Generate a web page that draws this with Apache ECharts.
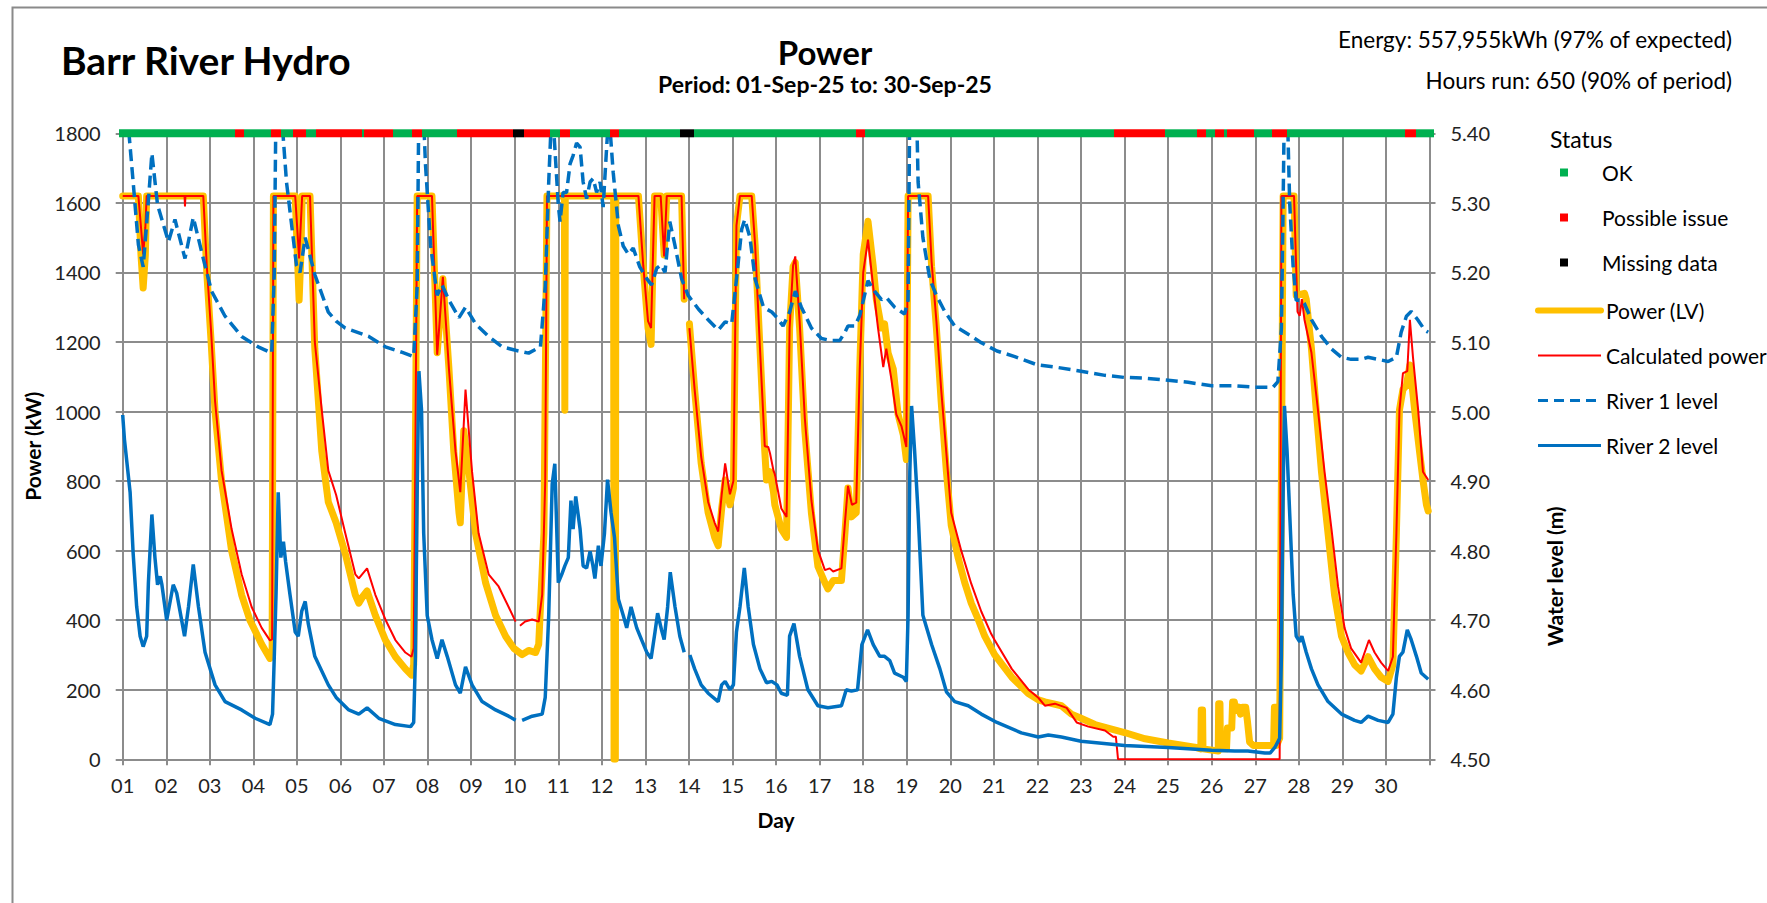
<!DOCTYPE html>
<html><head><meta charset="utf-8">
<script src="https://cdn.jsdelivr.net/npm/echarts@6/dist/echarts.min.js"></script>
<style>html,body{margin:0;padding:0;background:#fff}#c{width:1767px;height:903px}</style>
</head><body><div id="c"></div>
<script>
const chartTitle = 'Barr River Hydro';
const plotTitle = 'Power';
const periodText = 'Period: 01-Sep-25 to: 30-Sep-25';
const energyText = 'Energy: 557,955kWh (97% of expected)';
const hoursText = 'Hours run: 650 (90% of period)';
const dayLabels = ['01','02','03','04','05','06','07','08','09','10','11','12','13','14','15','16','17','18','19','20','21','22','23','24','25','26','27','28','29','30'];
const seriesNames = ['Power (LV)','Calculated power','River 1 level','River 2 level'];
const statusNames = ['OK','Possible issue','Missing data'];

const powerLV = [[1.00,1620],[1.36,1620],[1.42,1450],[1.47,1355],[1.52,1450],[1.55,1620],[2.85,1620],[2.93,1400],[3.03,1200],[3.12,1000],[3.27,800],[3.50,600],[3.73,473],[3.92,400],[4.19,331],[4.38,290],[4.43,300],[4.46,1620],[4.96,1620],[5.01,1450],[5.05,1320],[5.09,1450],[5.12,1620],[5.30,1620],[5.41,1181],[5.57,886],[5.72,740],[5.90,680],[6.11,591],[6.34,473],[6.42,449],[6.52,470],[6.61,484],[6.80,414],[7.03,343],[7.26,295],[7.49,260],[7.63,242],[7.68,272],[7.72,900],[7.76,1620],[8.10,1620],[8.22,1169],[8.35,1382],[8.49,1122],[8.60,886],[8.72,709],[8.75,680],[8.83,945],[8.95,827],[9.10,650],[9.33,508],[9.56,414],[9.79,354],[9.98,319],[10.17,301],[10.32,313],[10.48,307],[10.55,331],[10.67,650],[10.74,1620],[11.14,1620],[11.15,1004],[11.16,1620],[12.27,1620],[12.28,0],[12.31,0],[12.32,1620],[12.84,1620],[12.95,1417],[13.06,1240],[13.13,1193],[13.21,1620],[13.35,1620],[13.43,1450],[13.49,1620],[13.83,1620],[13.89,1323],[13.95,null],[14.01,1252],[14.13,1063],[14.28,851],[14.44,709],[14.59,638],[14.67,614],[14.75,721],[14.83,803],[14.94,732],[15.02,780],[15.09,1535],[15.17,1620],[15.44,1620],[15.52,1476],[15.63,1181],[15.74,886],[15.78,803],[15.86,827],[15.94,768],[15.97,732],[16.12,662],[16.24,638],[16.31,1240],[16.39,1417],[16.44,1429],[16.54,1240],[16.66,945],[16.81,709],[16.96,555],[17.12,508],[17.19,490],[17.31,514],[17.50,514],[17.58,650],[17.65,780],[17.73,697],[17.84,709],[17.92,1122],[18.00,1452],[18.11,1547],[18.23,1417],[18.30,1323],[18.42,1240],[18.49,1252],[18.57,1169],[18.69,1122],[18.80,992],[18.92,933],[18.99,862],[19.03,1620],[19.49,1620],[19.57,1417],[19.68,1240],[19.79,1027],[19.91,827],[20.02,673],[20.18,579],[20.33,508],[20.48,449],[20.64,402],[20.79,354],[20.94,319],[21.02,300],[21.41,236],[21.79,189],[22.02,171],[22.17,165],[22.55,154],[22.78,130],[23.00,118],[23.32,100],[24.00,77],[24.47,59],[25.00,47],[25.61,35],[25.75,30],[25.76,142],[25.79,142],[25.80,30],[26.15,24],[26.16,160],[26.19,160],[26.20,30],[26.34,30],[26.36,90],[26.46,90],[26.48,165],[26.52,165],[26.55,140],[26.62,150],[26.66,130],[26.70,150],[26.78,150],[26.82,110],[26.87,50],[26.95,40],[27.42,40],[27.44,150],[27.47,150],[27.49,40],[27.56,60],[27.60,800],[27.64,1620],[27.89,1620],[27.94,1334],[28.13,1340],[28.17,1323],[28.29,1181],[28.40,1004],[28.52,827],[28.67,650],[28.82,473],[28.98,354],[29.13,307],[29.28,272],[29.43,254],[29.59,295],[29.74,260],[29.89,236],[30.05,224],[30.16,272],[30.24,650],[30.31,1004],[30.39,1063],[30.47,1075],[30.55,1134],[30.66,1004],[30.77,886],[30.85,803],[30.93,732],[30.97,714]];

const calcPower = [[1.00,1620],[1.36,1620],[1.42,1530],[1.47,1452],[1.52,1530],[1.55,1620],[2.42,1620],[2.43,1590],[2.44,1620],[2.85,1620],[2.93,1420],[3.03,1230],[3.12,1030],[3.27,830],[3.50,662],[3.73,532],[3.96,438],[4.19,378],[4.38,342],[4.43,345],[4.46,1620],[4.96,1620],[5.05,1440],[5.12,1620],[5.30,1620],[5.41,1200],[5.57,1004],[5.72,830],[5.90,760],[6.11,650],[6.34,532],[6.42,520],[6.61,549],[6.80,473],[7.03,402],[7.26,343],[7.49,307],[7.63,295],[7.68,319],[7.72,900],[7.76,1620],[8.10,1620],[8.22,1163],[8.35,1387],[8.49,1122],[8.64,886],[8.75,768],[8.87,1063],[9.02,827],[9.17,650],[9.40,532],[9.63,497],[9.86,438],[10.02,396],[10.07,null],[10.12,384],[10.24,396],[10.40,402],[10.55,396],[10.63,473],[10.70,800],[10.74,1620],[12.84,1620],[12.95,1420],[13.06,1260],[13.13,1240],[13.21,1620],[13.35,1620],[13.43,1446],[13.49,1620],[13.83,1620],[13.89,1323],[13.95,null],[14.01,1240],[14.13,1063],[14.28,870],[14.44,740],[14.59,680],[14.67,655],[14.75,760],[14.83,851],[14.94,762],[15.02,800],[15.09,1535],[15.17,1620],[15.44,1620],[15.52,1476],[15.63,1181],[15.74,900],[15.82,898],[15.86,880],[15.94,830],[15.97,820],[16.12,721],[16.24,697],[16.31,1240],[16.39,1420],[16.44,1446],[16.54,1260],[16.66,980],[16.81,745],[16.96,602],[17.12,544],[17.23,549],[17.31,540],[17.50,549],[17.58,680],[17.65,786],[17.74,732],[17.84,738],[17.92,1122],[18.00,1400],[18.11,1494],[18.23,1358],[18.34,1240],[18.46,1128],[18.53,1181],[18.64,1098],[18.76,992],[18.88,957],[18.99,898],[19.03,1620],[19.49,1620],[19.57,1430],[19.68,1260],[19.79,1063],[20.02,709],[20.25,600],[20.48,505],[20.71,425],[20.94,360],[21.02,342],[21.41,260],[21.79,201],[22.02,177],[22.17,154],[22.40,160],[22.67,148],[22.90,106],[23.17,94],[23.55,83],[23.74,65],[23.80,65],[23.85,0],[27.56,0],[27.60,1620],[27.89,1620],[27.97,1287],[28.02,1275],[28.07,1323],[28.13,1264],[28.29,1169],[28.44,1004],[28.59,827],[28.75,662],[28.90,497],[29.05,378],[29.20,319],[29.43,278],[29.61,343],[29.74,307],[29.89,278],[30.05,254],[30.16,295],[30.24,650],[30.31,1004],[30.39,1110],[30.49,1116],[30.55,1264],[30.62,1157],[30.74,1004],[30.85,827],[30.97,803]];

const river1 = [[1.00,5.48],[1.13,5.41],[1.24,5.33],[1.36,5.24],[1.47,5.208],[1.55,5.27],[1.67,5.371],[1.80,5.297],[2.05,5.244],[2.20,5.276],[2.43,5.22],[2.62,5.279],[2.85,5.22],[3.04,5.173],[3.35,5.137],[3.73,5.108],[4.11,5.093],[4.42,5.084],[4.48,5.20],[4.52,5.45],[4.62,5.45],[4.76,5.33],[4.99,5.21],[5.07,5.20],[5.19,5.25],[5.41,5.197],[5.72,5.143],[5.90,5.13],[6.11,5.12],[6.65,5.108],[7.03,5.093],[7.42,5.085],[7.68,5.079],[7.76,5.18],[7.80,5.45],[7.89,5.45],[7.95,5.356],[8.07,5.238],[8.22,5.167],[8.33,5.182],[8.49,5.16],[8.72,5.135],[8.87,5.15],[9.10,5.126],[9.40,5.108],[9.71,5.093],[10.02,5.088],[10.32,5.084],[10.59,5.093],[10.70,5.18],[10.78,5.33],[10.86,5.45],[10.88,5.42],[10.92,5.38],[11.00,5.297],[11.04,5.273],[11.11,5.315],[11.19,5.315],[11.27,5.356],[11.34,5.368],[11.42,5.386],[11.50,5.38],[11.57,5.33],[11.65,5.306],[11.73,5.33],[11.80,5.335],[11.88,5.315],[11.96,5.33],[12.03,5.294],[12.11,5.38],[12.16,5.43],[12.26,5.344],[12.38,5.267],[12.49,5.238],[12.61,5.226],[12.72,5.235],[12.87,5.208],[13.03,5.191],[13.14,5.182],[13.26,5.206],[13.36,5.211],[13.45,5.20],[13.56,5.273],[13.68,5.238],[13.83,5.191],[13.98,5.167],[14.22,5.147],[14.44,5.132],[14.67,5.117],[14.83,5.129],[14.98,5.126],[15.09,5.19],[15.21,5.262],[15.28,5.276],[15.40,5.25],[15.52,5.19],[15.71,5.15],[15.90,5.143],[16.02,5.135],[16.16,5.123],[16.31,5.143],[16.44,5.173],[16.58,5.15],[16.81,5.12],[17.04,5.105],[17.27,5.102],[17.46,5.102],[17.58,5.114],[17.65,5.123],[17.81,5.123],[17.92,5.138],[18.11,5.188],[18.26,5.173],[18.42,5.161],[18.53,5.164],[18.72,5.15],[18.95,5.14],[19.03,5.16],[19.07,5.45],[19.22,5.45],[19.26,5.33],[19.37,5.25],[19.53,5.19],[19.68,5.167],[19.87,5.144],[20.10,5.123],[20.41,5.111],[20.71,5.099],[21.07,5.087],[21.48,5.079],[22.00,5.067],[22.40,5.064],[23.00,5.058],[23.55,5.052],[24.00,5.049],[24.47,5.048],[25.00,5.045],[25.46,5.042],[26.00,5.037],[26.53,5.037],[26.99,5.035],[27.41,5.035],[27.52,5.043],[27.60,5.12],[27.64,5.30],[27.67,5.45],[27.73,5.45],[27.79,5.30],[27.87,5.208],[27.94,5.16],[28.06,5.16],[28.13,5.155],[28.29,5.132],[28.52,5.108],[28.75,5.09],[28.98,5.078],[29.20,5.075],[29.43,5.075],[29.59,5.078],[29.82,5.075],[30.05,5.072],[30.24,5.078],[30.35,5.114],[30.47,5.137],[30.58,5.144],[30.73,5.132],[30.89,5.117],[30.97,5.114]];

const river2 = [[1.00,4.995],[1.04,4.96],[1.17,4.884],[1.24,4.796],[1.32,4.72],[1.40,4.677],[1.47,4.662],[1.55,4.677],[1.59,4.754],[1.67,4.852],[1.74,4.79],[1.80,4.751],[1.86,4.763],[1.90,4.751],[2.01,4.70],[2.16,4.751],[2.24,4.739],[2.42,4.677],[2.51,4.719],[2.62,4.78],[2.74,4.719],[2.89,4.654],[3.12,4.607],[3.35,4.583],[3.73,4.571],[4.04,4.559],[4.38,4.55],[4.44,4.565],[4.48,4.648],[4.52,4.737],[4.57,4.884],[4.63,4.79],[4.69,4.813],[4.74,4.784],[4.84,4.737],[4.96,4.683],[5.03,4.677],[5.11,4.713],[5.19,4.727],[5.26,4.695],[5.41,4.648],[5.72,4.607],[5.90,4.589],[6.19,4.571],[6.42,4.565],[6.61,4.574],[6.88,4.559],[7.26,4.55],[7.61,4.547],[7.68,4.553],[7.72,4.648],[7.76,4.884],[7.80,5.058],[7.86,5.002],[7.91,4.825],[7.99,4.707],[8.10,4.672],[8.22,4.645],[8.33,4.672],[8.45,4.648],[8.64,4.607],[8.75,4.595],[8.87,4.633],[9.02,4.607],[9.25,4.583],[9.56,4.571],[9.86,4.562],[10.02,4.556],[10.10,null],[10.17,4.556],[10.40,4.562],[10.63,4.565],[10.70,4.589],[10.78,4.707],[10.86,4.896],[10.92,4.925],[11.00,4.754],[11.08,4.766],[11.15,4.778],[11.23,4.79],[11.29,4.872],[11.34,4.831],[11.40,4.878],[11.50,4.831],[11.57,4.778],[11.65,4.775],[11.73,4.799],[11.79,4.78],[11.84,4.76],[11.92,4.807],[11.98,4.778],[12.06,4.825],[12.13,4.902],[12.21,4.855],[12.29,4.819],[12.38,4.73],[12.49,4.707],[12.57,4.689],[12.67,4.719],[12.80,4.689],[12.91,4.672],[13.03,4.654],[13.13,4.645],[13.22,4.683],[13.28,4.71],[13.37,4.686],[13.43,4.672],[13.51,4.719],[13.57,4.769],[13.68,4.719],[13.79,4.677],[13.89,4.654],[13.95,null],[14.02,4.65],[14.13,4.63],[14.28,4.607],[14.44,4.595],[14.67,4.583],[14.75,4.607],[14.83,4.612],[14.94,4.60],[15.02,4.607],[15.09,4.683],[15.17,4.719],[15.27,4.775],[15.36,4.719],[15.48,4.665],[15.63,4.63],[15.78,4.61],[15.90,4.612],[16.02,4.607],[16.12,4.595],[16.26,4.592],[16.31,4.677],[16.41,4.695],[16.54,4.648],[16.73,4.60],[16.96,4.577],[17.19,4.574],[17.50,4.577],[17.61,4.60],[17.73,4.598],[17.87,4.60],[17.97,4.665],[18.10,4.686],[18.23,4.665],[18.38,4.648],[18.49,4.648],[18.61,4.642],[18.72,4.624],[18.92,4.618],[18.99,4.612],[19.03,4.707],[19.07,4.913],[19.11,5.008],[19.18,4.943],[19.26,4.854],[19.37,4.707],[19.57,4.665],[19.76,4.63],[19.91,4.597],[20.10,4.583],[20.41,4.577],[20.71,4.565],[21.07,4.553],[21.63,4.538],[22.02,4.532],[22.25,4.535],[22.55,4.532],[23.00,4.526],[24.00,4.52],[25.00,4.517],[26.00,4.513],[26.53,4.512],[26.83,4.512],[27.22,4.509],[27.34,4.509],[27.45,4.517],[27.56,4.53],[27.60,4.648],[27.64,4.884],[27.67,5.008],[27.73,4.943],[27.79,4.854],[27.87,4.737],[27.94,4.677],[28.02,4.669],[28.07,4.677],[28.17,4.654],[28.29,4.63],[28.44,4.607],[28.67,4.583],[28.98,4.565],[29.28,4.556],[29.43,4.553],[29.59,4.562],[29.82,4.556],[30.05,4.553],[30.16,4.565],[30.24,4.618],[30.31,4.648],[30.39,4.654],[30.49,4.686],[30.58,4.672],[30.70,4.648],[30.81,4.624],[30.97,4.615]];

const statusOK = [[1.00,3.57],[3.79,4.40],[4.63,4.90],[5.21,5.44],[6.50,6.55],[7.21,7.65],[7.86,8.68],[10.81,11.04],[11.26,12.19],[12.39,13.79],[14.11,17.84],[18.05,23.76],[24.92,25.67],[25.88,26.07],[26.28,26.34],[26.96,27.39],[27.72,30.43],[30.68,31.00]];
const statusIssue = [[3.57,3.79],[4.40,4.63],[4.90,5.21],[5.44,6.50],[6.55,7.21],[7.65,7.86],[8.68,9.97],[10.22,10.81],[11.04,11.26],[12.19,12.39],[17.84,18.05],[23.76,24.92],[25.67,25.88],[26.07,26.28],[26.34,26.96],[27.39,27.72],[30.43,30.68]];
const statusMissing = [[9.97,10.22],[13.79,14.11]];
const statusLevel = 1800;

const X_MIN = 1, X_MAX = 31;
const GRID = '#8c8c8c';
const FONT = 'Lato';
const C_POWER = '#FFC000', C_CALC = '#FF0000', C_RIVER = '#0070C0';
const RIVER1_DASH = [12, 6];

function statusSeries(name, segs, color) {
  return {
    name: name, type: 'custom', yAxisIndex: 0, z: 10,
    itemStyle: { color: color },
    encode: { x: [0, 1], y: 2 },
    data: segs.map(s => [s[0], s[1], statusLevel]),
    renderItem: function (params, api) {
      const a = api.coord([api.value(0), api.value(2)]);
      const b = api.coord([api.value(1), api.value(2)]);
      let x0 = Math.round(a[0]), x1 = Math.round(b[0]);
      if (api.value(0) <= X_MIN) x0 -= 4;
      if (api.value(1) >= X_MAX) x1 += 4;
      return { type: 'rect', shape: { x: x0, y: a[1] - 4, width: x1 - x0, height: 8 }, style: { fill: color } };
    }
  };
}

function txt(x, y, text, font, align) {
  return { type: 'text', x: x, y: y, style: { text: text, font: font, fill: '#000', textAlign: align, textVerticalAlign: 'middle', align: align, verticalAlign: 'middle' } };
}

const chart = echarts.init(document.getElementById('c'), null, { renderer: 'svg' });
const option = {
  animation: false,
  backgroundColor: '#fff',
  textStyle: { fontFamily: FONT },
  grid: { left: 122.7, right: 337.5, top: 133.3, bottom: 143.7, containLabel: false },
  graphic: [
    { type: 'rect', z: -1, shape: { x: 12.5, y: 7.5, width: 1800, height: 1000 }, style: { fill: 'none', stroke: '#8a8a8a', lineWidth: 2 } },
    txt(61, 60, chartTitle, 'bold 39px Lato', 'left'),
    txt(825, 52, plotTitle, 'bold 33px Lato', 'center'),
    txt(825, 84, periodText, 'bold 23px Lato', 'center'),
    txt(1732, 39, energyText, '22.5px Lato', 'right'),
    txt(1732, 80, hoursText, '22.5px Lato', 'right'),
    txt(1550, 139, 'Status', '23px Lato', 'left')
  ],
  legend: [
    {
      data: statusNames.map(n => ({ name: n, icon: 'rect' })),
      orient: 'vertical', left: 1560, top: 162, padding: 0, itemWidth: 8, itemHeight: 8, itemGap: 24,
      selectedMode: false,
      textStyle: { fontFamily: FONT, fontSize: 21, color: '#000', padding: [0, 0, 0, 29] }
    },
    {
      data: [
        { name: seriesNames[0], lineStyle: { width: 6, color: C_POWER, cap: 'round' } },
        { name: seriesNames[1], lineStyle: { width: 2, color: C_CALC } },
        { name: seriesNames[2], lineStyle: { width: 3, color: C_RIVER, type: [10, 6] } },
        { name: seriesNames[3], lineStyle: { width: 3, color: C_RIVER } }
      ],
      orient: 'vertical', left: 1535, top: 300, padding: 0, itemWidth: 63, itemHeight: 14, itemGap: 24,
      selectedMode: false,
      itemStyle: { opacity: 0 },
      textStyle: { fontFamily: FONT, fontSize: 21, color: '#000' }
    }
  ],
  xAxis: {
    type: 'value', min: X_MIN, max: X_MAX, interval: 1,
    name: 'Day', nameLocation: 'middle', nameGap: 50,
    nameTextStyle: { fontFamily: FONT, fontWeight: 'bold', fontSize: 21, color: '#000' },
    axisLine: { show: true, lineStyle: { color: GRID, width: 2 } },
    axisTick: { show: true, length: 6, lineStyle: { color: GRID, width: 2 } },
    axisLabel: { fontFamily: FONT, fontSize: 20, color: '#222', margin: 16, formatter: v => dayLabels[v - 1] || '' },
    splitLine: { show: true, lineStyle: { color: GRID, width: 2 } }
  },
  yAxis: [
    {
      type: 'value', min: 0, max: 1800, interval: 200, position: 'left',
      name: 'Power (kW)', nameLocation: 'middle', nameGap: 76, nameRotate: 90,
      nameTextStyle: { fontFamily: FONT, fontWeight: 'bold', fontSize: 21, color: '#000' },
      axisLine: { show: true, lineStyle: { color: GRID, width: 2 } },
      axisTick: { show: true, length: 7, lineStyle: { color: GRID, width: 2 } },
      axisLabel: { fontFamily: FONT, fontSize: 20, color: '#222', margin: 22, formatter: v => String(v) },
      splitLine: { show: true, lineStyle: { color: GRID, width: 2 } }
    },
    {
      type: 'value', min: 4.5, max: 5.4, interval: 0.1, position: 'right',
      name: 'Water level (m)', nameLocation: 'middle', nameGap: 114, nameRotate: 90,
      nameTextStyle: { fontFamily: FONT, fontWeight: 'bold', fontSize: 21, color: '#000', padding: [0, 260, 0, 0] },
      axisLine: { show: true, lineStyle: { color: GRID, width: 2 } },
      axisTick: { show: true, length: 6, lineStyle: { color: GRID, width: 2 } },
      axisLabel: { fontFamily: FONT, fontSize: 20, color: '#222', margin: 21, formatter: v => v.toFixed(2) },
      splitLine: { show: false }
    }
  ],
  series: [
    { name: seriesNames[0], type: 'line', yAxisIndex: 0, data: powerLV, symbol: 'none', showSymbol: false, connectNulls: false,
      lineStyle: { color: C_POWER, width: 7, join: 'round', cap: 'round' }, itemStyle: { color: C_POWER }, z: 2 },
    { name: seriesNames[1], type: 'line', yAxisIndex: 0, data: calcPower, symbol: 'none', showSymbol: false, connectNulls: false,
      lineStyle: { color: C_CALC, width: 2 }, itemStyle: { color: C_CALC }, z: 3 },
    { name: seriesNames[2], type: 'line', yAxisIndex: 1, data: river1, symbol: 'none', showSymbol: false,
      lineStyle: { color: C_RIVER, width: 3.5, type: RIVER1_DASH }, itemStyle: { color: C_RIVER }, z: 4 },
    { name: seriesNames[3], type: 'line', yAxisIndex: 1, data: river2, symbol: 'none', showSymbol: false, connectNulls: false,
      lineStyle: { color: C_RIVER, width: 3.5 }, itemStyle: { color: C_RIVER }, z: 5 },
    statusSeries(statusNames[0], statusOK, '#00B050'),
    statusSeries(statusNames[1], statusIssue, '#FF0000'),
    statusSeries(statusNames[2], statusMissing, '#000000')
  ]
};
chart.setOption(option);
</script>
</body></html>
